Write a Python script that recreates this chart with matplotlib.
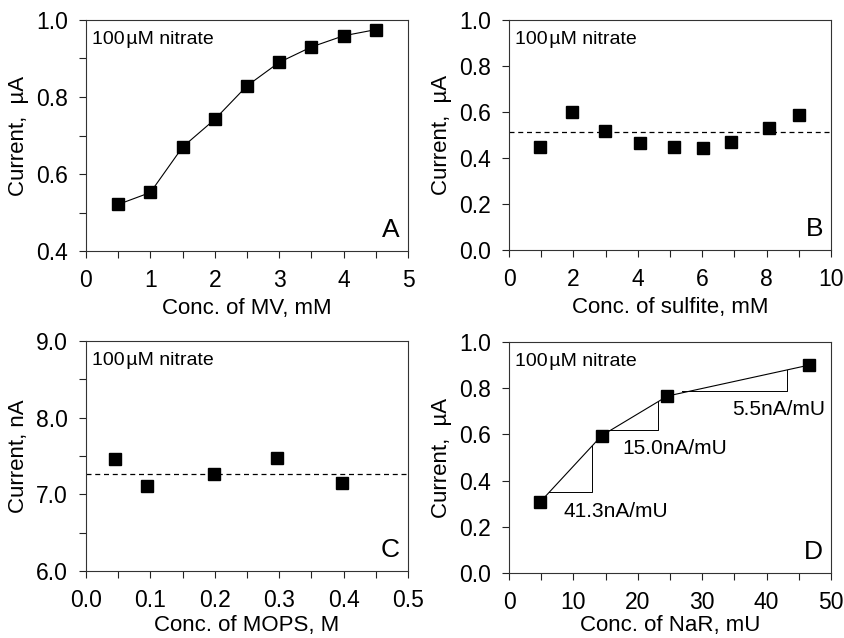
import matplotlib
matplotlib.use("Agg")
import matplotlib.pyplot as plt
from matplotlib.ticker import MultipleLocator, FormatStrFormatter

plt.rcParams['font.family'] = ['Liberation Sans', 'DejaVu Sans']

# Panel A: MV concentration
mv_conc = [0.5, 1.0, 1.5, 2.0, 2.5, 3.0, 3.5, 4.0, 4.5]
mv_current = [0.521, 0.552, 0.670, 0.742, 0.829, 0.890, 0.930, 0.959, 0.975]

# Panel B: sulfite concentration
sulfite_conc = [0.95, 1.96, 2.97, 4.07, 5.11, 6.04, 6.89, 8.08, 9.02]
sulfite_current = [0.448, 0.599, 0.516, 0.464, 0.448, 0.443, 0.470, 0.530, 0.586]
sulfite_mean = 0.512

# Panel C: MOPS concentration
mops_conc = [0.045, 0.094, 0.199, 0.296, 0.398]
mops_current = [7.456, 7.114, 7.266, 7.474, 7.153]
mops_mean = 7.266

# Panel D: NaR concentration
nar_conc = [4.8, 14.4, 24.6, 46.6]
nar_current = [0.306, 0.595, 0.766, 0.900]
slope_labels = ["41.3nA/mU", "15.0nA/mU", "5.5nA/mU"]
tri_x0 = [6.2, 15.4, 26.8]
tri_x1 = [12.9, 23.1, 43.2]
tri_ylow = [0.350, 0.620, 0.786]
tri_yhigh = [0.548, 0.744, 0.877]
label_x = [16.6, 25.8, 41.8]
label_y = [0.266, 0.540, 0.708]

nitrate_text = "100\u200a\u00b5M nitrate"

fig = plt.figure(figsize=(8.44, 6.38), dpi=100)
W, H = 844, 638

def make_ax(l, t, r, b):
    return fig.add_axes([l / W, 1 - b / H, (r - l) / W, (b - t) / H])

axA = make_ax(86, 20, 408, 251)
axB = make_ax(509, 20, 831, 250)
axC = make_ax(86, 341, 408, 571)
axD = make_ax(509, 342, 831, 573)

TFS = 16.5
LFS = 16

def style(ax, xlim, ylim, xmaj, xmin, ymaj, ymin, xfmt, yfmt, xlabel, ylabel, letter, xpad=4):
    ax.set_xlim(*xlim)
    ax.set_ylim(*ylim)
    ax.xaxis.set_major_locator(MultipleLocator(xmaj))
    ax.yaxis.set_major_locator(MultipleLocator(ymaj))
    if xmin:
        ax.xaxis.set_minor_locator(MultipleLocator(xmin))
    if ymin:
        ax.yaxis.set_minor_locator(MultipleLocator(ymin))
    ax.xaxis.set_major_formatter(FormatStrFormatter(xfmt))
    ax.yaxis.set_major_formatter(FormatStrFormatter(yfmt))
    ax.tick_params(which='both', direction='out', labelsize=TFS, width=0.8, color='#222222')
    ax.tick_params(which='major', length=5, pad=8)
    ax.tick_params(which='minor', length=5)
    for s in ax.spines.values():
        s.set_linewidth(0.8)
        s.set_color('#333333')
    ax.set_xlabel(xlabel, fontsize=LFS, labelpad=xpad)
    ax.set_ylabel(ylabel, fontsize=LFS, labelpad=5)
    ax.text(0.018, 0.915, nitrate_text, transform=ax.transAxes, fontsize=14,
            ha='left', va='center')
    ax.text(0.975, 0.04, letter, transform=ax.transAxes, fontsize=19,
            ha='right', va='bottom')

mk = dict(marker='s', markersize=8, color='black', markerfacecolor='black',
          markeredgecolor='black')

# A
axA.plot(mv_conc, mv_current, linestyle='-', linewidth=0.8, **mk)
style(axA, (0, 5), (0.4, 1.0), 1, 0.5, 0.2, 0.1, '%d', '%.1f',
      'Conc. of MV, mM', 'Current,  \u00b5A', 'A')

# B
axB.plot(sulfite_conc, sulfite_current, linestyle='none', **mk)
axB.axhline(sulfite_mean, color='black', linestyle=(0, (4, 3)), linewidth=0.9)
style(axB, (0, 10), (0.0, 1.0), 2, 1, 0.2, None, '%d', '%.1f',
      'Conc. of sulfite, mM', 'Current,  \u00b5A', 'B')

# C
axC.plot(mops_conc, mops_current, linestyle='none', **mk)
axC.axhline(mops_mean, color='black', linestyle=(0, (4, 3)), linewidth=0.9)
style(axC, (0, 0.5), (6.0, 9.0), 0.1, 0.05, 1.0, 0.5, '%.1f', '%.1f',
      'Conc. of MOPS, M', 'Current, nA', 'C', xpad=2)

# D
axD.plot(nar_conc, nar_current, linestyle='-', linewidth=0.8, **mk)
for x0, x1, yl, yh, lab, lx, ly in zip(tri_x0, tri_x1, tri_ylow, tri_yhigh,
                                       slope_labels, label_x, label_y):
    axD.plot([x0, x1, x1], [yl, yl, yh], color='black', linewidth=0.7)
    axD.text(lx, ly, lab, fontsize=15, ha='center', va='center')
style(axD, (0, 50), (0.0, 1.0), 10, 5, 0.2, None, '%d', '%.1f',
      'Conc. of NaR, mU', 'Current,  \u00b5A', 'D', xpad=1)

fig.savefig('out.png', dpi=100)
